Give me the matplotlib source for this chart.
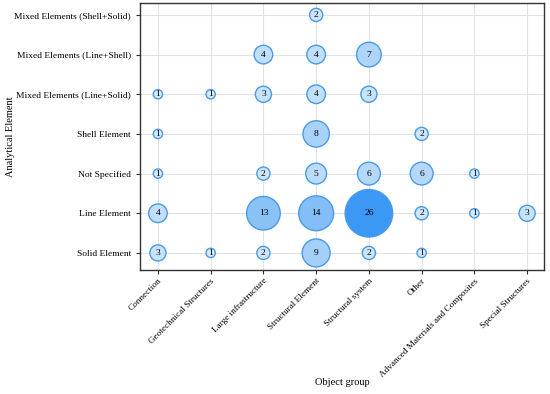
# Bubble chart: analytical element vs object group
import numpy as np
import matplotlib.pyplot as plt
from matplotlib.colors import LinearSegmentedColormap, Normalize

plt.rcParams['font.family'] = ['Liberation Serif', 'DejaVu Serif']

object_groups = ['Connection', 'Geotechnical Structures', 'Large infrastructure',
                 'Structural Element', 'Structural system', 'Other',
                 'Advanced Materials and Composites', 'Special Structures']
elements = ['Solid Element', 'Line Element', 'Not Specified', 'Shell Element',
            'Mixed Elements (Line+Solid)', 'Mixed Elements (Line+Shell)',
            'Mixed Elements (Shell+Solid)']

# one row per element, one column per object group (0 = no bubble)
solid = [3, 1, 2, 9, 2, 1, 0, 0]
line = [4, 0, 13, 14, 26, 2, 1, 3]
not_specified = [1, 0, 2, 5, 6, 6, 1, 0]
shell = [1, 0, 0, 8, 0, 2, 0, 0]
line_solid = [1, 1, 3, 4, 3, 0, 0, 0]
line_shell = [0, 0, 4, 4, 7, 0, 0, 0]
shell_solid = [0, 0, 0, 2, 0, 0, 0, 0]

counts = np.array([solid, line, not_specified, shell, line_solid, line_shell, shell_solid])

xs, ys, vs = [], [], []
for i in range(counts.shape[0]):
    for j in range(counts.shape[1]):
        if counts[i, j] > 0:
            xs.append(j)
            ys.append(i)
            vs.append(counts[i, j])
xs = np.array(xs)
ys = np.array(ys)
vs = np.array(vs)

cmap = LinearSegmentedColormap.from_list('bl', ['#d3e8fb', '#3b98f5'])
norm = Normalize(1, 26)

fig = plt.figure(figsize=(5.5, 3.94), dpi=100)
ax = fig.add_axes([140 / 550, 1 - 270 / 394, 404 / 550, 267 / 394])

ax.grid(True, color='#e3e3e3', linewidth=0.8)
ax.set_axisbelow(True)
ax.scatter(xs, ys, s=45 * vs, c=cmap(norm(vs)), edgecolors='#4a9ae8', linewidths=1.0, zorder=3)
for x, y, v in zip(xs, ys, vs):
    ax.text(x, y, str(v), ha='center', va='center', fontsize=6.8, zorder=4)

ax.set_xlim(-0.34, 7.32)
ax.set_ylim(-0.43, 6.3)
ax.set_xticks(range(len(object_groups)))
ax.set_xticklabels(object_groups, rotation=45, ha='right', rotation_mode='anchor', fontsize=6.6)
ax.set_yticks(range(len(elements)))
ax.set_yticklabels(elements, fontsize=6.8)
ax.set_xlabel('Object group', fontsize=7.5)
ax.set_ylabel('Analytical Element', fontsize=7.5)
ax.xaxis.set_label_coords(0.5, -0.405)
ax.yaxis.set_label_coords(-0.31, 0.5)
for sp in ax.spines.values():
    sp.set_color('#333333')
    sp.set_linewidth(1.0)
ax.tick_params(colors='#333333', length=3, width=0.8, labelcolor='black')
ax.tick_params(axis='x', pad=2)

plt.savefig('out.png', dpi=100)
